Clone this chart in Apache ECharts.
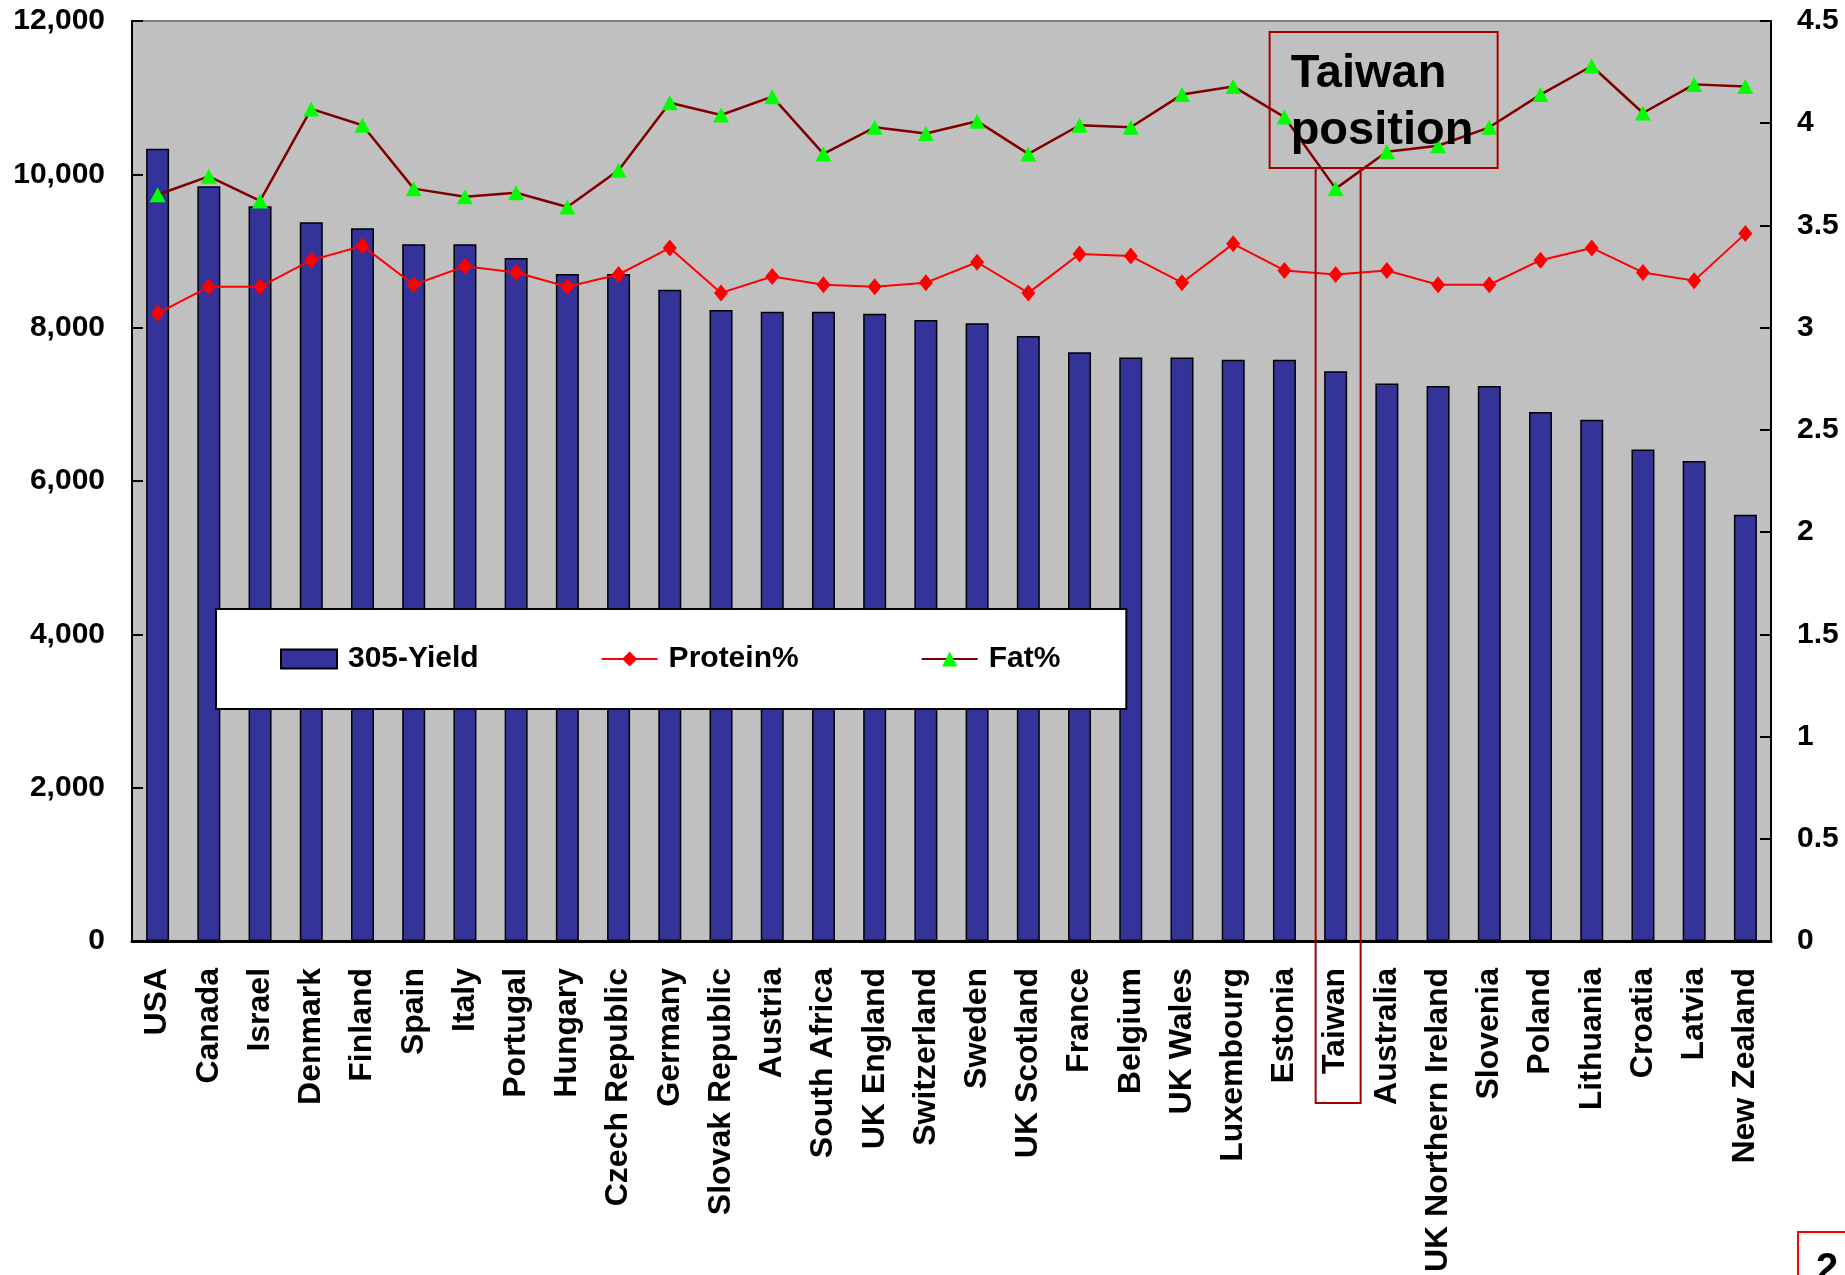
<!DOCTYPE html>
<html>
<head>
<meta charset="utf-8">
<script src="https://cdn.jsdelivr.net/npm/echarts@6/dist/echarts.min.js"></script>
<style>
html,body{margin:0;padding:0;background:#fff;}
#c{width:1845px;height:1275px;}
</style>
</head>
<body>
<div id="c"></div>
<script>
const categories = ['USA','Canada','Israel','Denmark','Finland','Spain','Italy','Portugal','Hungary','Czech Republic','Germany','Slovak Republic','Austria','South Africa','UK England','Switzerland','Sweden','UK Scotland','France','Belgium','UK Wales','Luxembourg','Estonia','Taiwan','Australia','UK Northern Ireland','Slovenia','Poland','Lithuania','Croatia','Latvia','New Zealand'];
const yield305 = [10334, 9844, 9584, 9375, 9297, 9089, 9089, 8907, 8699, 8699, 8496, 8230, 8209, 8209, 8183, 8100, 8057, 7890, 7680, 7610, 7610, 7580, 7580, 7430, 7270, 7240, 7240, 6900, 6800, 6410, 6260, 5560];
const protein = [3.07, 3.20, 3.20, 3.33, 3.40, 3.21, 3.30, 3.27, 3.20, 3.26, 3.39, 3.17, 3.25, 3.21, 3.20, 3.22, 3.32, 3.17, 3.36, 3.35, 3.22, 3.41, 3.28, 3.26, 3.28, 3.21, 3.21, 3.33, 3.39, 3.27, 3.23, 3.46];
const fat = [3.65, 3.74, 3.62, 4.07, 3.99, 3.68, 3.64, 3.66, 3.59, 3.77, 4.10, 4.04, 4.13, 3.85, 3.98, 3.95, 4.01, 3.85, 3.99, 3.98, 4.14, 4.18, 4.03, 3.68, 3.86, 3.89, 3.98, 4.14, 4.28, 4.05, 4.19, 4.18];
const leftTicks = {min: 0, max: 12000, interval: 2000};
const rightTicks = {min: 0, max: 4.5, interval: 0.5};
const highlight = 'Taiwan';

const FONT = '"Liberation Sans", Arial, sans-serif';
const chart = echarts.init(document.getElementById('c'), null, {renderer: 'canvas'});
const option = {
  animation: false,
  backgroundColor: '#ffffff',
  grid: {left: 132, right: 74, top: 21, bottom: 332, show: true, backgroundColor: '#C0C0C0', borderColor: '#808080', borderWidth: 2},
  legend: {
    left: 216, top: 609,
    padding: [35, 66, 35, 64],
    backgroundColor: '#ffffff', borderColor: '#000000', borderWidth: 2,
    itemWidth: 56, itemHeight: 19, itemGap: 122,
    z: 10,
    textStyle: {fontFamily: FONT, fontWeight: 'bold', fontSize: 30, color: '#000', lineHeight: 30, padding: [0, 0, 0, 6]},
    data: [{name: '305-Yield', icon: 'rect'}, {name: 'Protein%'}, {name: 'Fat%'}]
  },
  xAxis: {
    type: 'category', data: categories,
    axisLine: {lineStyle: {color: '#000', width: 3}},
    axisTick: {inside: true, length: 9, lineStyle: {color: '#000', width: 1.5}},
    axisLabel: {interval: 0, rotate: 90, margin: 27, fontFamily: FONT, fontWeight: 'bold', fontSize: 32, color: '#000'},
    splitLine: {show: false}
  },
  yAxis: [
    {
      type: 'value', min: leftTicks.min, max: leftTicks.max, interval: leftTicks.interval, position: 'left',
      axisLine: {show: true, lineStyle: {color: '#000', width: 2}},
      axisTick: {show: true, inside: true, length: 11, lineStyle: {color: '#000', width: 2}},
      axisLabel: {margin: 27, fontFamily: FONT, fontWeight: 'bold', fontSize: 30, color: '#000',
        formatter: v => v.toLocaleString('en-US')},
      splitLine: {show: false}
    },
    {
      type: 'value', min: rightTicks.min, max: rightTicks.max, interval: rightTicks.interval, position: 'right',
      axisLine: {show: true, lineStyle: {color: '#000', width: 2}},
      axisTick: {show: true, inside: true, length: 11, lineStyle: {color: '#000', width: 2}},
      axisLabel: {margin: 26, fontFamily: FONT, fontWeight: 'bold', fontSize: 30, color: '#000',
        formatter: v => String(v)},
      splitLine: {show: false}
    }
  ],
  series: [
    {
      name: '305-Yield', type: 'bar', data: yield305, yAxisIndex: 0, barWidth: 23,
      itemStyle: {color: '#333399', borderColor: '#000', borderWidth: 1.5}, z: 2
    },
    {
      name: 'Protein%', type: 'line', data: protein, yAxisIndex: 1,
      lineStyle: {color: '#FF0000', width: 2}, itemStyle: {color: '#FF0000'},
      symbol: 'diamond', symbolSize: [14, 17], z: 5
    },
    {
      name: 'Fat%', type: 'line', data: fat, yAxisIndex: 1,
      lineStyle: {color: '#800000', width: 2.5}, itemStyle: {color: '#00FF00'},
      symbol: 'triangle', symbolSize: [16, 15], z: 6
    }
  ]
};
chart.setOption(option);

const cx = chart.convertToPixel({xAxisIndex: 0}, highlight);
chart.setOption({
  graphic: [
    {type: 'rect', z: 20, shape: {x: cx - 66, y: 32, width: 228, height: 136},
      style: {fill: 'none', stroke: '#A00000', lineWidth: 2}},
    {type: 'text', z: 21, left: cx - 45, top: 46,
      style: {text: 'Taiwan\nposition', font: 'bold 47px ' + FONT, fill: '#000', lineHeight: 57}},
    {type: 'rect', z: 20, shape: {x: cx - 20, y: 168, width: 45, height: 935},
      style: {fill: 'none', stroke: '#A00000', lineWidth: 2}},
    {type: 'rect', z: 20, shape: {x: 1798, y: 1232, width: 100, height: 100},
      style: {fill: 'none', stroke: '#FF0000', lineWidth: 2}},
    {type: 'text', z: 21, left: 1816, top: 1250,
      style: {text: '2', font: 'bold 40px ' + FONT, fill: '#000'}}
  ]
});
</script>
</body>
</html>
